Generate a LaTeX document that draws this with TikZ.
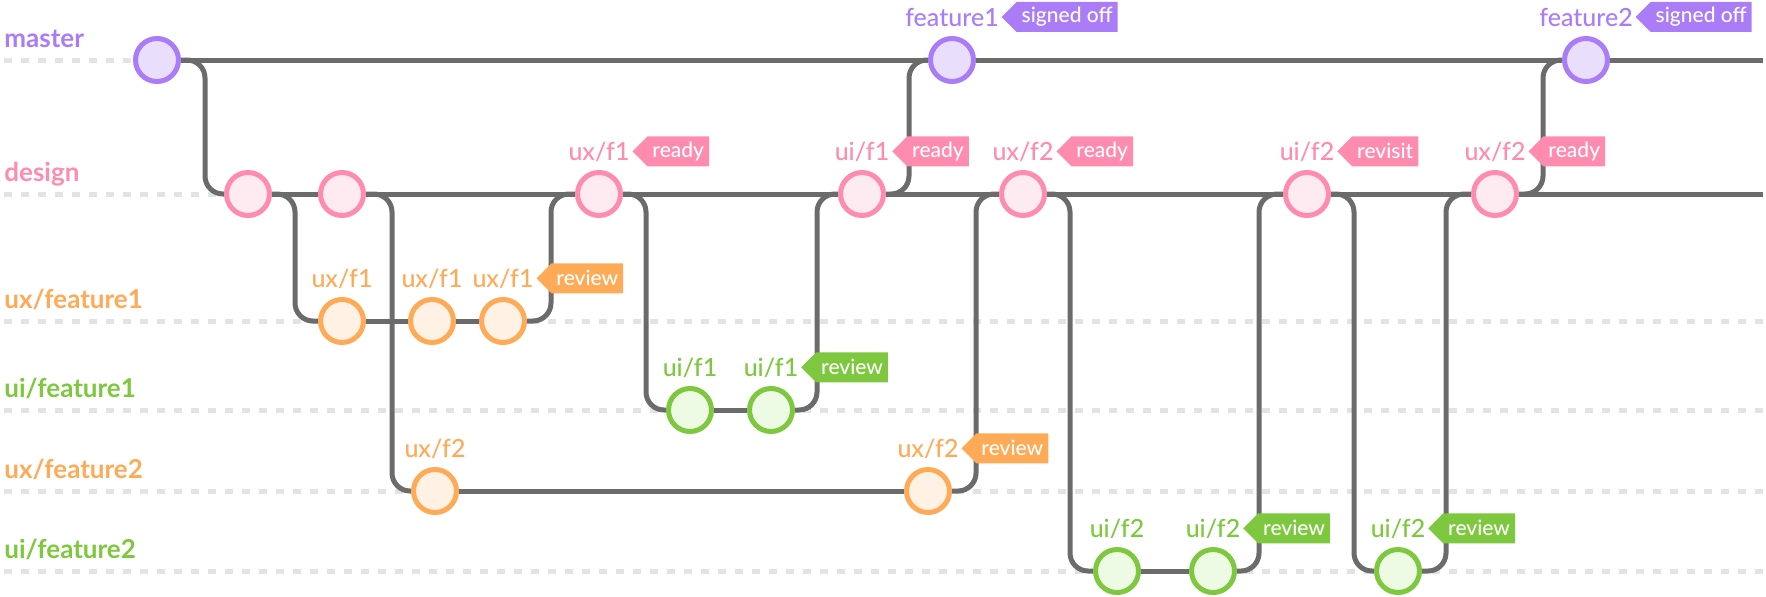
\documentclass[tikz,border=0pt]{standalone}
\usepackage{fontspec}
\setmainfont{Lato}
\newfontfamily\medfont{Lato Medium}
\usepackage{tikz}
\usetikzlibrary{positioning, shapes.symbols, backgrounds}
\usepackage{xcolor}
\definecolor{mastercol}{RGB}{170, 124, 247}
\definecolor{masterfill}{RGB}{233, 223, 253}
\definecolor{designcol}{RGB}{255, 140, 175}
\definecolor{designfill}{RGB}{253, 235, 241}
\definecolor{uxcol}{RGB}{254, 170, 87}
\definecolor{uxfill}{RGB}{255, 241, 227}
\definecolor{uicol}{RGB}{125, 200, 62}
\definecolor{uifill}{RGB}{238, 251, 228}
\definecolor{linegray}{RGB}{107, 107, 107}
\definecolor{lanegray}{RGB}{227, 227, 227}

\begin{document}
\begin{tikzpicture}[line cap=round, line join=round, x=0.5pt, y=-0.5pt,
	commit/.style={circle, line width=2.5pt, minimum size=21.5pt, inner sep=0pt},
	mcommit/.style={commit, draw=mastercol, fill=masterfill},
	dcommit/.style={commit, draw=designcol, fill=designfill},
	xcommit/.style={commit, draw=uxcol, fill=uxfill},
	icommit/.style={commit, draw=uicol, fill=uifill},
	lane/.style={lanegray, line width=2.5pt, dash pattern=on 3.8pt off 4.7pt},
	branch/.style={linegray, line width=2.5pt, rounded corners=9pt},
	lanetext/.style={anchor=base west, inner sep=0pt, font=\fontsize{13}{13}\selectfont\bfseries},
	clabel/.style={anchor=base, inner sep=0pt, font=\fontsize{12.5}{12.5}\selectfont\medfont},
	tag/.style={signal, signal to=west, signal pointer angle=90, inner xsep=2.5pt, inner ysep=0pt,
		minimum height=15pt, text=white, font=\fontsize{10.5}{10.5}\selectfont\medfont}]
	\useasboundingbox (0,0) rectangle (1766,596);

	\node[lanetext, text=mastercol] (Lmaster) at (4,47) {master};
	\node[lanetext, text=designcol] (Ldesign) at (4,181) {design};
	\node[lanetext, text=uxcol] (Luxone) at (4,308) {ux/feature1};
	\node[lanetext, text=uicol] (Luione) at (4,397) {ui/feature1};
	\node[lanetext, text=uxcol] (Luxtwo) at (4,478) {ux/feature2};
	\node[lanetext, text=uicol] (Luitwo) at (4,558) {ui/feature2};

	\node[mcommit] (M1) at (157,60) {};
	\node[mcommit] (M2) at (952,60) {};
	\node[mcommit] (M3) at (1586,60) {};
	\coordinate (mEnd) at (1763,60);

	\node[dcommit] (D1) at (248,194) {};
	\node[dcommit] (D2) at (342,194) {};
	\node[dcommit] (D3) at (599,194) {};
	\node[dcommit] (D4) at (862,194) {};
	\node[dcommit] (D5) at (1023,194) {};
	\node[dcommit] (D6) at (1307,194) {};
	\node[dcommit] (D7) at (1495,194) {};
	\coordinate (dEnd) at (1763,194);

	\node[xcommit] (X1) at (342,321) {};
	\node[xcommit] (X2) at (432,321) {};
	\node[xcommit] (X3) at (503,321) {};

	\node[icommit] (I1) at (690,410) {};
	\node[icommit] (I2) at (771,410) {};

	\node[xcommit] (Y1) at (435,491) {};
	\node[xcommit] (Y2) at (928,491) {};

	\node[icommit] (J1) at (1117,571) {};
	\node[icommit] (J2) at (1213,571) {};
	\node[icommit] (J3) at (1398,571) {};

	\node[above=5pt of M2, clabel, text=mastercol] (lM2) {feature1};
	\node[tag, fill=mastercol, right=1pt of lM2] (tM2) {signed off};
	\node[above=5pt of M3, clabel, text=mastercol] (lM3) {feature2};
	\node[tag, fill=mastercol, right=1pt of lM3] (tM3) {signed off};

	\node[above=5pt of D3, clabel, text=designcol] (lD3) {ux/f1};
	\node[tag, fill=designcol, right=1pt of lD3] (tD3) {ready};
	\node[above=5pt of D4, clabel, text=designcol] (lD4) {ui/f1};
	\node[tag, fill=designcol, right=1pt of lD4] (tD4) {ready};
	\node[above=5pt of D5, clabel, text=designcol] (lD5) {ux/f2};
	\node[tag, fill=designcol, right=1pt of lD5] (tD5) {ready};
	\node[above=5pt of D6, clabel, text=designcol] (lD6) {ui/f2};
	\node[tag, fill=designcol, right=1pt of lD6] (tD6) {revisit};
	\node[above=5pt of D7, clabel, text=designcol] (lD7) {ux/f2};
	\node[tag, fill=designcol, right=1pt of lD7] (tD7) {ready};

	\node[above=5pt of X1, clabel, text=uxcol] (lX1) {ux/f1};
	\node[above=5pt of X2, clabel, text=uxcol] (lX2) {ux/f1};
	\node[above=5pt of X3, clabel, text=uxcol] (lX3) {ux/f1};
	\node[tag, fill=uxcol, right=1pt of lX3] (tX3) {review};

	\node[above=5pt of I1, clabel, text=uicol] (lI1) {ui/f1};
	\node[above=5pt of I2, clabel, text=uicol] (lI2) {ui/f1};
	\node[tag, fill=uicol, right=1pt of lI2] (tI2) {review};

	\node[above=5pt of Y1, clabel, text=uxcol] (lY1) {ux/f2};
	\node[above=5pt of Y2, clabel, text=uxcol] (lY2) {ux/f2};
	\node[tag, fill=uxcol, right=1pt of lY2] (tY2) {review};

	\node[above=5pt of J1, clabel, text=uicol] (lJ1) {ui/f2};
	\node[above=5pt of J2, clabel, text=uicol] (lJ2) {ui/f2};
	\node[tag, fill=uicol, right=1pt of lJ2] (tJ2) {review};
	\node[above=5pt of J3, clabel, text=uicol] (lJ3) {ui/f2};
	\node[tag, fill=uicol, right=1pt of lJ3] (tJ3) {review};

	\begin{scope}[on background layer]
		\draw [lane] (4,60)--(1766,60);
		\draw [lane] (4,194)--(1766,194);
		\draw [lane] (4,321)--(1766,321);
		\draw [lane] (4,410)--(1766,410);
		\draw [lane] (4,491)--(1766,491);
		\draw [lane] (4,571)--(1766,571);

		\draw [branch] (M1)--(M2)--(M3)--(mEnd);
		\draw [branch] (D1)--(D2)--(D3)--(D4)--(D5)--(D6)--(D7)--(dEnd);
		\draw [branch] (X1)--(X2)--(X3);
		\draw [branch] (I1)--(I2);
		\draw [branch] (Y1)--(Y2);
		\draw [branch] (J1)--(J2);

		\draw [branch] (M1) -- ++(48,0) |- (D1);
		\draw [branch] (D1) -- ++(47,0) |- (X1);
		\draw [branch] (X3) -- ++(48,0) |- (D3);
		\draw [branch] (D2) -- ++(50,0) |- (Y1);
		\draw [branch] (Y2) -- ++(48,0) |- (D5);
		\draw [branch] (D3) -- ++(47,0) |- (I1);
		\draw [branch] (I2) -- ++(46,0) |- (D4);
		\draw [branch] (D4) -- ++(47,0) |- (M2);
		\draw [branch] (D5) -- ++(47,0) |- (J1);
		\draw [branch] (J2) -- ++(46,0) |- (D6);
		\draw [branch] (D6) -- ++(47,0) |- (J3);
		\draw [branch] (J3) -- ++(48,0) |- (D7);
		\draw [branch] (D7) -- ++(48,0) |- (M3);
	\end{scope}
\end{tikzpicture}
\end{document}
